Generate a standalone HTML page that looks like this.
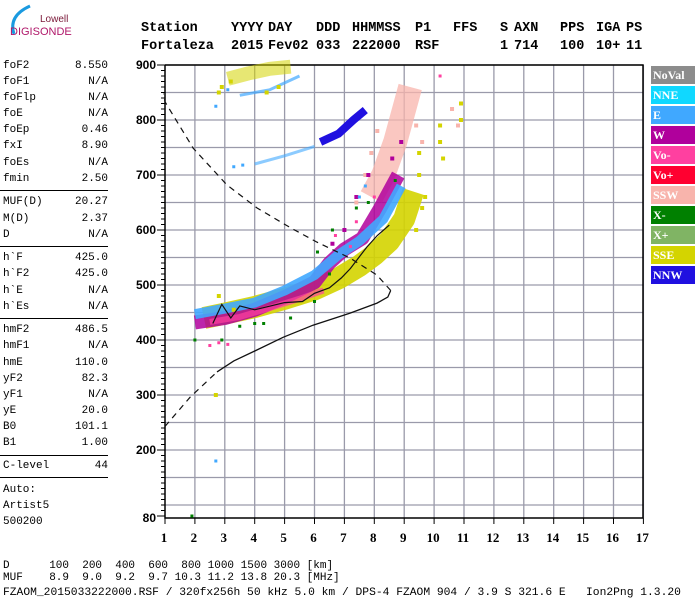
<!DOCTYPE html>
<html><head><meta charset="utf-8"><style>
body{margin:0;background:#fff;}
#root{position:relative;width:700px;height:600px;overflow:hidden;background:#fff;font-family:"Liberation Mono",monospace;}
.t{position:absolute;white-space:pre;line-height:1;}
.hd{font-weight:bold;font-size:13.5px;color:#000;}
.lp{font-size:11px;color:#000;}
.lv{font-size:11px;color:#000;text-align:right;width:70px;}
.hr{position:absolute;left:0;width:108px;height:1px;background:#000;}
.leg{position:absolute;left:651px;width:44px;height:18px;font-family:"Liberation Serif",serif;font-weight:bold;font-size:12px;color:#fff;line-height:18px;padding-left:2px;box-sizing:border-box;}
</style></head><body>
<div id="root">
<svg style="position:absolute;left:0;top:0" width="140" height="45">
<path d="M14 34 Q8 16 30 6" stroke="#1a9ae0" stroke-width="3" fill="none"/>
<text x="40" y="22" font-family="Liberation Sans,sans-serif" font-size="10" fill="#7a1838">Lowell</text>
<text x="10" y="35" font-family="Liberation Sans,sans-serif" font-size="11" fill="#b0186a">DIGISONDE</text>
</svg>
<div id="hdr"></div>
<div id="lp"></div>
<svg id="chart" style="position:absolute;left:0;top:0" width="700" height="600"></svg>
<div id="legend"></div>
<div class="t lp" style="left:3px;top:561px">D      100  200  400  600  800 1000 1500 3000 [km]</div>
<div class="t lp" style="left:3px;top:573px">MUF    8.9  9.0  9.2  9.7 10.3 11.2 13.8 20.3 [MHz]</div>
<div class="t lp" style="left:3px;top:588px;font-size:11.3px">FZAOM_2015033222000.RSF / 320fx256h 50 kHz 5.0 km / DPS-4 FZAOM 904 / 3.9 S 321.6 E   Ion2Png 1.3.20</div>
</div>
<script>
const hdrCols=[141,231,268,316,352,415,453,500,514,560,596,626];
const hdrRow1=["Station","YYYY","DAY","DDD","HHMMSS","P1","FFS","S","AXN","PPS","IGA","PS"];
const hdrRow2=["Fortaleza","2015","Fev02","033","222000","RSF","","1","714","100","10+","11"];
const paramNames=["foF2","foF1","foFlp","foE","foEp","fxI","foEs","fmin","MUF(D)","M(D)","D","h`F","h`F2","h`E","h`Es","hmF2","hmF1","hmE","yF2","yF1","yE","B0","B1","C-level","Auto:","Artist5","500200"];
const paramValues=["8.550","N/A","N/A","N/A","0.46","8.90","N/A","2.50","20.27","2.37","N/A","425.0","425.0","N/A","N/A","486.5","N/A","110.0","82.3","N/A","20.0","101.1","1.00","44","","",""];
const paramY=[67,83,99,115,131,147,164,180,203,220,236,259,275,292,308,331,347,364,380,396,412,428,444,467,491,507,523];
const ruleY=[190,246,318,455,477];
const legendNames=["NoVal","NNE","E","W","Vo-","Vo+","SSW","X-","X+","SSE","NNW"];
const legendColors=["#8c8c8c","#10d8ff","#40a8ff","#b0009c","#ff40a0","#ff0030","#f8b4ac","#008000","#80b464","#d4d400","#2010e0"];
const yTicks=[900,800,700,600,500,400,300,200,80];
const xTicks=[1,2,3,4,5,6,7,8,9,10,11,12,13,14,15,16,17];
const bandSSE=[[2.3,440],[3,448],[4,460],[5,475],[6,492],[6.8,512],[7.5,535],[8,555],[8.5,580],[9,620],[9.3,670]];
const bandW=[[2,432],[3,440],[4,455],[5,478],[6,505],[6.5,540],[7,565],[7.6,585],[8.2,640],[8.8,700]];
const bandE=[[2,447],[3,457],[4,468],[5,490],[6,518],[6.8,555],[7.5,580],[8.3,620],[8.9,680]];
const bandVom=[[2.5,433],[3.5,442],[4.5,458],[5.5,475],[6.3,490]];
const bandSSW=[[7.9,660],[8.3,700],[8.7,760],[9,820],[9.2,860]];
const bandNNW=[[6.2,760],[6.8,775],[7.3,800],[7.7,818]];
const bandNNE2=[[4,720],[5,735],[6,752]];
const bandTopSSE=[[3.1,875],[3.8,885],[4.5,893],[5.2,897]];
const bandTopE=[[3.5,845],[4.5,855],[5.5,880]];
const dotsSSE=[[9.5,740],[9.5,700],[10.2,790],[10.2,760],[10.9,800],[10.9,830],[9.6,640],[3.3,455],[2.8,480],[2.7,300],[2.9,860],[3.2,870],[2.8,850],[4.4,850],[4.8,860],[9.4,600],[9.7,660],[10.3,730]];
const dotsX=[[2,400],[2.9,400],[3.5,425],[4.3,430],[5.2,440],[6,470],[6.6,600],[7.8,650],[1.9,80],[6.5,520],[4,430],[7.4,640],[8.7,690],[6.1,560]];
const dotsVom=[[2.8,395],[3.1,392],[2.5,390],[10.2,880],[7.4,615],[6.7,590],[7.2,570],[8,660]];
const dotsE=[[3.3,715],[3.6,718],[2.7,180],[7.5,660],[7.7,680],[2.7,825],[3.1,855]];
const dotsSSW=[[7.7,700],[7.9,740],[8.1,780],[9.4,790],[9.6,760],[10.6,820],[10.8,790],[7.4,650]];
const dotsW=[[7.4,660],[7.8,700],[8.6,730],[8.9,760],[7,600],[6.6,575]];
const profSolid=[[2.74,342],[3.3,362],[4.08,382],[4.95,405],[5.95,427],[7.19,449],[8.09,467],[8.45,478],[8.55,490]];
const profDashLow=[[1,243],[1.84,296],[2.74,342]];
const profDashUp=[[8.55,490],[8.09,518],[7.19,549],[6.08,578],[5.2,604],[4.08,640],[3.07,682],[1.94,749],[1,833],[0.95,848]];
const oTrace=[[2.6,430],[2.9,465],[3.2,440],[3.5,462],[4,455],[5,468],[5.6,470],[6,485],[6.5,495],[6.9,513],[7.2,530],[7.75,569],[8.1,590],[8.5,609]];

const X0=165,PX=29.9,Y0=65,PY=0.55;
function xs(f){return X0+(f-1)*PX;}
function ys(h){return Y0+(900-h)*PY;}
const NS="http://www.w3.org/2000/svg";
const svg=document.getElementById('chart');
function mk(tag,attrs){const e=document.createElementNS(NS,tag);for(const k in attrs)e.setAttribute(k,attrs[k]);svg.appendChild(e);return e;}
function pts(a){return a.map(p=>xs(p[0]).toFixed(1)+','+ys(p[1]).toFixed(1)).join(' ');}

const hdr=document.getElementById('hdr');
[hdrRow1,hdrRow2].forEach((row,ri)=>row.forEach((s,i)=>{const d=document.createElement('div');d.className='t hd';d.style.left=hdrCols[i]+'px';d.style.top=(ri?40:22)+'px';d.textContent=s;


hdr.appendChild(d);}));
const lp=document.getElementById('lp');
paramNames.forEach((n,i)=>{const a=document.createElement('div');a.className='t lp';a.style.left='3px';a.style.top=(paramY[i]-6)+'px';a.textContent=n;


lp.appendChild(a);
const b=document.createElement('div');b.className='t lv';b.style.left='38px';b.style.top=(paramY[i]-6)+'px';b.textContent=paramValues[i];


lp.appendChild(b);});
ruleY.forEach(y=>{const r=document.createElement('div');r.className='hr';r.style.top=y+'px';


lp.appendChild(r);});
const lg=document.getElementById('legend');
legendNames.forEach((n,i)=>{const d=document.createElement('div');d.className='leg';d.style.top=(66+i*20)+'px';d.style.background=legendColors[i];d.textContent=n;


lg.appendChild(d);});

for(let h=100;h<=900;h+=50){const l=mk('line',{x1:X0,x2:643,y1:ys(h),y2:ys(h),stroke:'#9a9aaa','stroke-width':1.3});

}
xTicks.forEach(f=>{if(f>1){const l=mk('line',{x1:xs(f),x2:xs(f),y1:Y0,y2:518,stroke:'#9a9aaa','stroke-width':1.3});

}});
const fr=mk('path',{d:`M${X0} ${Y0}H643V518M${X0} ${Y0}V518H643`,stroke:'#000','stroke-width':1.5,fill:'none'});


for(let h=80;h<=900;h+=10){const l=mk('line',{x1:X0-4,x2:X0,y1:ys(h),y2:ys(h),stroke:'#000','stroke-width':1});

}
yTicks.forEach(h=>{const l=mk('line',{x1:X0-8,x2:X0,y1:ys(h),y2:ys(h),stroke:'#000','stroke-width':1});


const t=mk('text',{x:156,y:(h===80?518:ys(h))+4,'text-anchor':'end','font-family':'Liberation Sans,sans-serif','font-weight':'bold','font-size':12});t.textContent=h;

});
xTicks.forEach(f=>{const l=mk('line',{x1:xs(f),x2:xs(f),y1:518,y2:524,stroke:'#000','stroke-width':1});


const t=mk('text',{x:xs(f)-1,y:542,'text-anchor':'middle','font-family':'Liberation Serif,serif','font-weight':'bold','font-size':13});t.textContent=f;

});

function band(arr,ci,w,op){const p=mk('polyline',{points:pts(arr),stroke:legendColors[ci],'stroke-width':w,fill:'none','stroke-linejoin':'round',opacity:op||1});

}
function dots(arr,ci,s){arr.forEach(p=>{const r=mk('rect',{x:xs(p[0])-s/2,y:ys(p[1])-s/2,width:s,height:s,fill:legendColors[ci]});

});}
band(bandSSW,6,24,0.75);
band(bandTopSSE,9,14,0.55);
band(bandTopE,2,3,0.7);
band(bandSSE,9,22,0.9);
band(bandW,3,14,0.85);
band(bandE,2,10,0.9);
band(bandVom,4,6,0.7);
band(bandNNE2,2,3,0.6);
band(bandNNW,10,8);
dots(dotsSSW,6,4);dots(dotsSSE,9,4);dots(dotsW,3,4);dots(dotsX,7,3);dots(dotsVom,4,3);dots(dotsE,2,3);

function curve(arr,dash,w,name){const p=mk('polyline',{points:pts(arr),stroke:'#111','stroke-width':w,fill:'none','stroke-dasharray':dash||'none'});

}
curve(profSolid,null,1.3,'profile-solid');
curve(profDashLow,'6,5',1.2,'profile-dashed-low');
curve(profDashUp,'6,5',1.2,'profile-dashed-up');
curve(oTrace,null,1.2,'o-trace-fit');
</script>
</body></html>
